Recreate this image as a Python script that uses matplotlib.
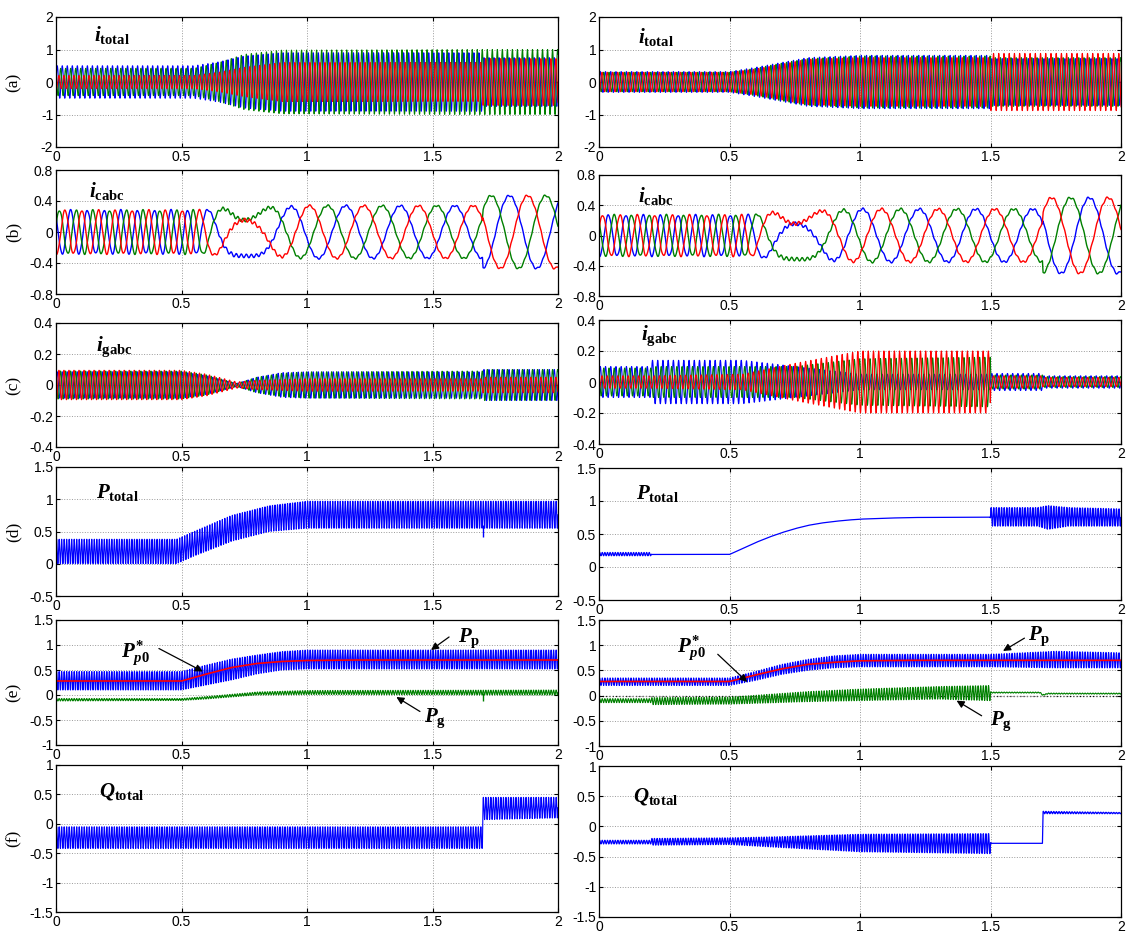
import numpy as np
import matplotlib
matplotlib.use("Agg")
import matplotlib.pyplot as plt
from matplotlib.ticker import FuncFormatter

plt.rcParams["font.family"] = ["Liberation Sans", "DejaVu Sans"]
plt.rcParams["mathtext.fontset"] = "custom"
plt.rcParams["mathtext.it"] = "Liberation Serif:italic:bold"
plt.rcParams["mathtext.rm"] = "Liberation Serif:bold"
plt.rcParams["mathtext.bf"] = "Liberation Serif:bold"

BLUE, GREEN, RED = "#0000ff", "#008000", "#ff0000"
W, H = 1129, 933
T = np.linspace(0, 2, 40001)
F_GRID = 50.0      # grid frequency of the fast currents
F_POW = 100.0      # power ripple frequency

# ---------------- (a) i_total : envelope knots per phase ----------------
A_T_L = [0, 0.55, 0.65, 0.75, 0.9, 1.699, 1.701, 2.0]
A_BLUE_L = [0.5, 0.5, 0.62, 0.8, 0.9, 0.9, 0.75, 0.75]
A_GREEN_L = [0.42, 0.42, 0.6, 0.85, 0.98, 1.0, 1.0, 1.0]
A_RED_L = [0.2, 0.2, 0.3, 0.45, 0.6, 0.6, 0.72, 0.72]

A_T_R = [0, 0.5, 0.6, 0.7, 0.8, 1.0, 1.499, 1.501, 2.0]
A_BLUE_R = [0.32, 0.32, 0.45, 0.6, 0.75, 0.82, 0.82, 0.72, 0.72]
A_GREEN_R = [0.3, 0.3, 0.42, 0.58, 0.72, 0.8, 0.8, 0.75, 0.75]
A_RED_R = [0.3, 0.3, 0.4, 0.55, 0.7, 0.75, 0.75, 0.88, 0.88]

# ---------------- (b) i_cabc : frequency / amplitude knots ----------------
B_FT_L = [0, 0.55, 0.62, 0.75, 0.88, 0.95, 2.0]
B_F_L = [15, 15, 6, 0, -4, -4.6, -4.6]
B_AT_L = [0, 0.58, 0.65, 0.9, 1.0, 1.699, 1.701, 2.0]
B_A_L = [0.28, 0.28, 0.3, 0.32, 0.34, 0.34, 0.47, 0.47]
B_RT_L = [0, 0.6, 0.7, 0.85, 1.0, 2.0]
B_R_L = [0.01, 0.012, 0.025, 0.02, 0.012, 0.012]

B_FT_R = [0, 0.55, 0.62, 0.75, 0.88, 0.95, 2.0]
B_F_R = [15, 15, 6, 0, -4, -4.6, -4.6]
B_AT_R = [0, 0.58, 0.65, 0.9, 1.0, 1.699, 1.701, 2.0]
B_A_R = [0.27, 0.27, 0.3, 0.33, 0.35, 0.35, 0.5, 0.5]
B_RT_R = [0, 0.6, 0.7, 0.85, 1.0, 2.0]
B_R_R = [0.01, 0.012, 0.025, 0.02, 0.015, 0.015]

# ---------------- (c) i_gabc : envelope knots per phase ----------------
C_T_L = [0, 0.5, 0.6, 0.72, 0.8, 0.9, 1.0, 1.699, 1.701, 2.0]
C_BLUE_L = [0.085, 0.085, 0.06, 0.01, 0.05, 0.08, 0.085, 0.085, 0.1, 0.1]
C_GREEN_L = [0.09, 0.09, 0.065, 0.01, 0.05, 0.075, 0.085, 0.09, 0.1, 0.1]
C_RED_L = [0.095, 0.095, 0.07, 0.02, 0.03, 0.035, 0.04, 0.04, 0.05, 0.05]

C_T_R = [0, 0.199, 0.201, 0.55, 0.75, 1.0, 1.499, 1.501, 1.699, 1.701, 2.0]
C_BLUE_R = [0.1, 0.1, 0.14, 0.14, 0.1, 0.05, 0.05, 0.055, 0.055, 0.04, 0.04]
C_GREEN_R = [0.09, 0.09, 0.1, 0.1, 0.1, 0.15, 0.16, 0.045, 0.045, 0.035, 0.035]
C_RED_R = [0.04, 0.04, 0.04, 0.05, 0.12, 0.2, 0.2, 0.04, 0.04, 0.03, 0.03]

# ---------------- (d) P_total : lower / upper band ----------------
D_T_L = [0, 0.48, 0.55, 0.7, 0.85, 1.0, 1.1, 2.0]
D_LO_L = [0.0, 0.0, 0.12, 0.35, 0.5, 0.55, 0.55, 0.55]
D_HI_L = [0.38, 0.38, 0.5, 0.75, 0.9, 0.97, 0.97, 0.97]
D_SPIKE_L = (1.7, 0.42)

D_T_R = [0, 0.199, 0.201, 0.5, 0.55, 0.6, 0.65, 0.7, 0.75, 0.8, 0.85, 0.9, 0.95, 1.0,
         1.1, 1.2, 1.499, 1.501, 1.68, 1.72, 1.8, 2.0]
D_LO_R = [0.17, 0.17, 0.19, 0.19, 0.28, 0.37, 0.45, 0.52, 0.58, 0.63, 0.665, 0.69, 0.71,
          0.725, 0.74, 0.75, 0.755, 0.62, 0.62, 0.57, 0.62, 0.62]
D_HI_R = [0.22, 0.22, 0.19, 0.19, 0.28, 0.37, 0.45, 0.52, 0.58, 0.63, 0.665, 0.69, 0.71,
          0.725, 0.74, 0.75, 0.755, 0.9, 0.9, 0.93, 0.9, 0.88]

# ---------------- (e) P_p, P*_p0, P_g ----------------
E_PT_L = [0, 0.5, 0.6, 0.7, 0.8, 0.9, 1.0, 2.0]
E_PLO_L = [0.1, 0.1, 0.2, 0.3, 0.42, 0.5, 0.52, 0.52]
E_PHI_L = [0.47, 0.47, 0.6, 0.72, 0.8, 0.87, 0.9, 0.9]
E_RT_L = [0, 0.5, 0.6, 0.7, 0.8, 0.9, 1.0, 1.2, 2.0]
E_REF_L = [0.28, 0.28, 0.42, 0.55, 0.63, 0.67, 0.69, 0.7, 0.7]
E_GT_L = [0, 0.5, 0.6, 0.8, 1.0, 2.0]
E_GLO_L = [-0.12, -0.11, -0.08, 0.0, 0.01, 0.0]
E_GHI_L = [-0.07, -0.07, -0.03, 0.06, 0.09, 0.1]
E_GSPIKE_L = (1.7, -0.12)

E_PT_R = [0, 0.5, 0.6, 0.7, 0.8, 0.9, 1.0, 1.5, 1.75, 2.0]
E_PLO_R = [0.2, 0.2, 0.3, 0.42, 0.5, 0.55, 0.57, 0.57, 0.55, 0.55]
E_PHI_R = [0.35, 0.35, 0.48, 0.62, 0.72, 0.79, 0.82, 0.82, 0.88, 0.85]
E_RT_R = [0, 0.5, 0.6, 0.7, 0.8, 0.9, 1.0, 1.2, 2.0]
E_REF_R = [0.28, 0.28, 0.41, 0.53, 0.62, 0.66, 0.69, 0.7, 0.7]
E_GT_R = [0, 0.199, 0.201, 0.5, 0.8, 1.0, 1.3, 1.499, 1.501, 1.69, 1.7, 1.72, 2.0]
E_GLO_R = [-0.14, -0.14, -0.18, -0.17, -0.12, -0.1, -0.07, -0.1, 0.05, 0.05, 0.0, 0.03, 0.03]
E_GHI_R = [-0.06, -0.06, -0.04, -0.03, 0.08, 0.13, 0.18, 0.2, 0.07, 0.07, 0.02, 0.05, 0.05]

# ---------------- (f) Q_total ----------------
F_T_L = [0, 1.699, 1.701, 2.0]
F_LO_L = [-0.42, -0.42, 0.07, 0.1]
F_HI_L = [-0.05, -0.05, 0.45, 0.45]

F_T_R = [0, 0.199, 0.201, 0.5, 0.7, 1.0, 1.499, 1.501, 1.699, 1.701, 2.0]
F_LO_R = [-0.29, -0.29, -0.31, -0.3, -0.35, -0.42, -0.45, -0.28, -0.28, 0.21, 0.21]
F_HI_R = [-0.23, -0.23, -0.2, -0.19, -0.17, -0.13, -0.12, -0.28, -0.28, 0.25, 0.23]

XTICKS = [0, 0.5, 1, 1.5, 2]
YTICKS = [
    [-2, -1, 0, 1, 2],
    [-0.8, -0.4, 0, 0.4, 0.8],
    [-0.4, -0.2, 0, 0.2, 0.4],
    [-0.5, 0, 0.5, 1, 1.5],
    [-1, -0.5, 0, 0.5, 1, 1.5],
    [-1.5, -1, -0.5, 0, 0.5, 1],
]
PANEL_TAGS = ["(a)", "(b)", "(c)", "(d)", "(e)", "(f)"]
TITLES = [r"$i_{\mathrm{total}}$", r"$i_{\mathrm{cabc}}$", r"$i_{\mathrm{gabc}}$",
          r"$P_{\mathrm{total}}$", None, r"$Q_{\mathrm{total}}$"]

# layout in pixels (left, right) and (top, bottom)
LEFT_X, RIGHT_X = (56, 558), (599, 1121)
ROWS_L = [(17, 147), (170, 294), (323, 447), (467, 596), (620, 745), (765, 912)]
ROWS_R = [(17, 147), (175, 296), (320, 444), (468, 600), (620, 746), (766, 917)]
TITLE_POS_L = [(0.075, 0.86), (0.065, 0.83), (0.08, 0.81), (0.08, 0.80), None, (0.085, 0.82)]
TITLE_POS_R = [(0.075, 0.85), (0.075, 0.83), (0.08, 0.87), (0.07, 0.81), None, (0.065, 0.80)]
TAG_Y = [0.5, 0.5, 0.5, 0.5, 0.42, 0.5]


def add_ax(fig, xs, ys):
    x0, x1 = xs
    y0, y1 = ys
    return fig.add_axes([x0 / W, 1 - y1 / H, (x1 - x0) / W, (y1 - y0) / H])


def style(ax, yticks):
    fmt = FuncFormatter(lambda v, p: f"{v:g}")
    ax.set_xlim(0, 2)
    ax.set_ylim(yticks[0], yticks[-1])
    ax.set_xticks(XTICKS)
    ax.set_yticks(yticks)
    ax.xaxis.set_major_formatter(fmt)
    ax.yaxis.set_major_formatter(fmt)
    ax.set_axisbelow(True)
    ax.grid(True, linestyle=":", color="#9a9a9a", lw=0.7)
    ax.tick_params(direction="in", length=3, labelsize=10, pad=2, top=True, right=True)
    for s in ax.spines.values():
        s.set_linewidth(0.9)


def three_phase(ax, t_knots, amps):
    for (color, a_knots), k in zip(amps, [0, 1, 2]):
        a = np.interp(T, t_knots, a_knots)
        ax.plot(T, a * np.sin(2 * np.pi * F_GRID * T + k * 2 * np.pi / 3), color=color, lw=0.8)


def slow_abc(ax, f_t, f_v, a_t, a_v, r_t, r_v, roles):
    f = np.interp(T, f_t, f_v)
    theta = 2 * np.pi * np.cumsum(f) * (T[1] - T[0])
    theta += np.deg2rad(60) - np.interp(0.75, T, theta)
    amp = np.interp(T, a_t, a_v)
    rip = np.interp(T, r_t, r_v)
    for color, shift in roles:
        s = np.deg2rad(shift)
        y = amp * np.cos(theta + s) + rip * np.sin(2 * np.pi * F_GRID * T + s)
        ax.plot(T, y, color=color, lw=1.0)


def band(ax, t_knots, lo, hi, color, freq=F_POW, lw=0.8):
    lo_t = np.interp(T, t_knots, lo)
    hi_t = np.interp(T, t_knots, hi)
    y = lo_t + (hi_t - lo_t) * (0.5 + 0.5 * np.sin(2 * np.pi * freq * T))
    ax.plot(T, y, color=color, lw=lw)


def arrow(ax, tail, tip):
    ax.annotate("", xy=tip, xytext=tail,
                arrowprops=dict(arrowstyle="-|>", color="black", lw=0.9, mutation_scale=11,
                                shrinkA=0, shrinkB=0))


fig = plt.figure(figsize=(W / 100, H / 100), dpi=100)
axes_l = [add_ax(fig, LEFT_X, r) for r in ROWS_L]
axes_r = [add_ax(fig, RIGHT_X, r) for r in ROWS_R]

# (a)
three_phase(axes_l[0], A_T_L, [(BLUE, A_BLUE_L), (GREEN, A_GREEN_L), (RED, A_RED_L)])
three_phase(axes_r[0], A_T_R, [(BLUE, A_BLUE_R), (GREEN, A_GREEN_R), (RED, A_RED_R)])

# (b)
slow_abc(axes_l[1], B_FT_L, B_F_L, B_AT_L, B_A_L, B_RT_L, B_R_L,
         [(BLUE, 120), (GREEN, 0), (RED, -120)])
slow_abc(axes_r[1], B_FT_R, B_F_R, B_AT_R, B_A_R, B_RT_R, B_R_R,
         [(BLUE, -120), (GREEN, 120), (RED, 0)])

# (c)
three_phase(axes_l[2], C_T_L, [(BLUE, C_BLUE_L), (GREEN, C_GREEN_L), (RED, C_RED_L)])
three_phase(axes_r[2], C_T_R, [(BLUE, C_BLUE_R), (GREEN, C_GREEN_R), (RED, C_RED_R)])

# (d)
band(axes_l[3], D_T_L, D_LO_L, D_HI_L, BLUE)
axes_l[3].vlines(D_SPIKE_L[0], D_SPIKE_L[1], 0.6, color=BLUE, lw=1)
band(axes_r[3], D_T_R, D_LO_R, D_HI_R, BLUE, lw=0.9)

# (e)
for ax, pt, plo, phi, rt, ref, gt, glo, ghi in [
    (axes_l[4], E_PT_L, E_PLO_L, E_PHI_L, E_RT_L, E_REF_L, E_GT_L, E_GLO_L, E_GHI_L),
    (axes_r[4], E_PT_R, E_PLO_R, E_PHI_R, E_RT_R, E_REF_R, E_GT_R, E_GLO_R, E_GHI_R),
]:
    band(ax, pt, plo, phi, BLUE)
    band(ax, gt, glo, ghi, GREEN)
    ax.plot(rt, ref, color=RED, lw=1.2)
axes_l[4].vlines(E_GSPIKE_L[0], E_GSPIKE_L[1], 0.05, color=GREEN, lw=1)
axes_r[4].axhline(0, color="black", ls=":", lw=0.9, zorder=0.5)

# (f)
band(axes_l[5], F_T_L, F_LO_L, F_HI_L, BLUE)
band(axes_r[5], F_T_R, F_LO_R, F_HI_R, BLUE, lw=0.9)

for i in range(6):
    style(axes_l[i], YTICKS[i])
    style(axes_r[i], YTICKS[i])
    if TITLES[i]:
        for ax, pos in [(axes_l[i], TITLE_POS_L[i]), (axes_r[i], TITLE_POS_R[i])]:
            ax.text(pos[0], pos[1], TITLES[i], transform=ax.transAxes, fontsize=15,
                    ha="left", va="center")
    y0, y1 = ROWS_L[i]
    ty = 1 - (y1 - TAG_Y[i] * (y1 - y0)) / H
    fig.text(14 / W, ty, PANEL_TAGS[i], rotation=90, family="Liberation Serif",
             fontsize=12.5, ha="center", va="center")

# annotations of panel (e)
lab = dict(fontsize=15, ha="left", va="baseline")
ax = axes_l[4]
ax.text(0.26, 0.74, r"$P^{*}_{p0}$", **lab)
arrow(ax, (0.41, 0.93), (0.585, 0.47))
ax.text(1.6, 1.05, r"$P_{\mathrm{p}}$", **lab)
arrow(ax, (1.566, 1.16), (1.494, 0.9))
ax.text(1.465, -0.54, r"$P_{\mathrm{g}}$", **lab)
arrow(ax, (1.45, -0.33), (1.356, -0.04))

ax = axes_r[4]
ax.text(0.3, 0.84, r"$P^{*}_{p0}$", **lab)
arrow(ax, (0.455, 0.82), (0.568, 0.27))
ax.text(1.644, 1.1, r"$P_{\mathrm{p}}$", **lab)
arrow(ax, (1.63, 1.14), (1.548, 0.886))
ax.text(1.5, -0.58, r"$P_{\mathrm{g}}$", **lab)
arrow(ax, (1.466, -0.4), (1.37, -0.1))

fig.savefig("out.png", dpi=100)
